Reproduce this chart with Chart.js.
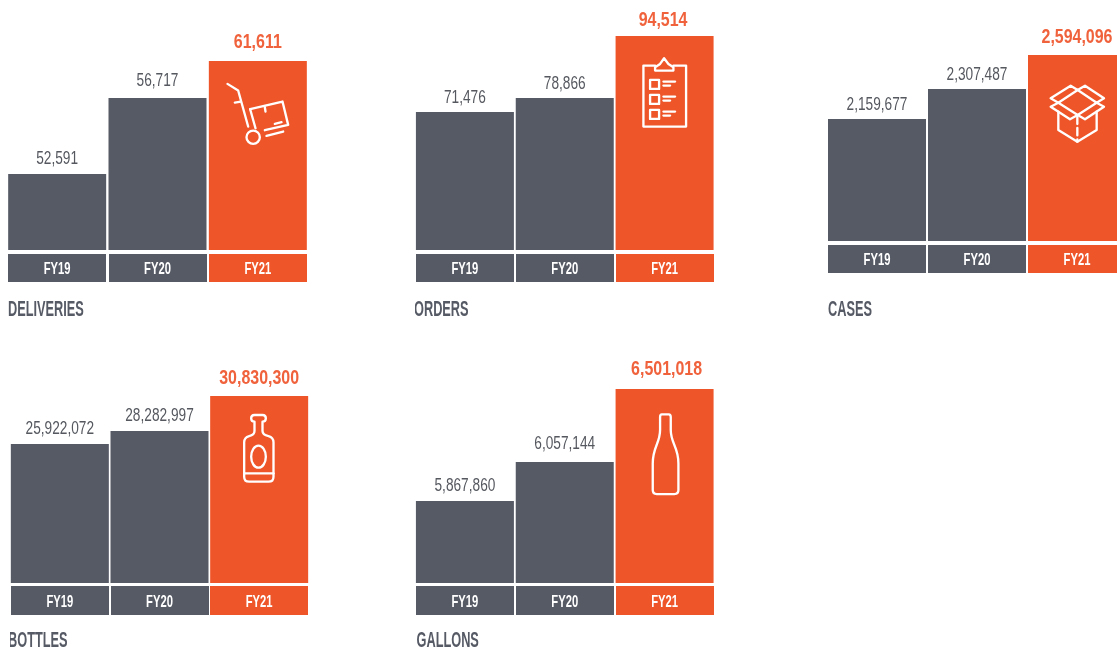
<!DOCTYPE html>
<html><head><meta charset="utf-8">
<style>
html,body{margin:0;padding:0;background:#fff;width:1117px;height:652px;overflow:hidden}
#wrap{position:relative;width:1117px;height:652px;overflow:hidden}
.p{position:absolute}
.p canvas{display:block}
</style>
<script src="https://cdn.jsdelivr.net/npm/chart.js@4"></script>
</head><body><div id="wrap"></div>
<script>
// ---- data ----
const categories = ['FY19','FY20','FY21'];
const deliveries = [52591,56717,61611];
const orders     = [71476,78866,94514];
const cases      = [2159677,2307487,2594096];
const bottles    = [25922072,28282997,30830300];
const gallons    = [5867860,6057144,6501018];
// The original axes are not to scale: share of the axis height reached at each value.
const deliveriesAxis = [.317,.633,.788];
const ordersAxis     = [.575,.633,.892];
const casesAxis      = [.508,.633,.775];
const bottlesAxis    = [.579,.633,.779];
const gallonsAxis    = [.342,.504,.808];

const DARK='#565a65', ORANGE='#ee5529';
const barColors=[DARK,DARK,ORANGE];
const FONT='"Liberation Sans",sans-serif';
// Horizontal squeeze per font size, standing in for the condensed display face.
const SQUEEZE={22:.58,17:.66,21:.76,18:.76};

// Axis with breaks: linear between listed value/share pairs.
class BrokenScale extends Chart.LinearScale{
  _stops(){
    const o=this.options;
    const s=[[0,0]];
    o.axisValues.forEach((v,i)=>s.push([v,o.axisShares[i]]));
    return s;
  }
  getPixelForValue(v){
    const s=this._stops();
    let i=1;
    while(i<s.length-1&&v>s[i][0])i++;
    const f=s[i-1][1]+(v-s[i-1][0])*(s[i][1]-s[i-1][1])/(s[i][0]-s[i-1][0]);
    return this.bottom-f*(this.bottom-this.top);
  }
}
BrokenScale.id='broken';
BrokenScale.defaults=Chart.LinearScale.defaults;
Chart.register(BrokenScale);

function poly(c,pts,close){c.beginPath();pts.forEach((p,i)=>i?c.lineTo(p[0],p[1]):c.moveTo(p[0],p[1]));if(close)c.closePath();c.stroke();}
const icons={
 trolley:{ox:-43,oy:14,draw(c){
  poly(c,[[38,27],[70,47],[100,155]]);
  poly(c,[[60,83],[78,80]]);
  poly(c,[[106,103],[203,80],[220,150],[150,166]]);
  poly(c,[[106,103],[122,160]]);
  poly(c,[[150,97],[152,110]]);
  poly(c,[[180,147],[200,142]]);
  poly(c,[[155,183],[205,170]]);
  c.beginPath();c.arc(115,187,20,0,Math.PI*2);c.stroke();
 }},
 clipboard:{ox:-54.5,oy:4,draw(c){
  poly(c,[[135,77],[100,77],[100,260],[228,260],[228,77],[190,77]]);
  c.beginPath();c.moveTo(135,92);c.lineTo(135,82);c.lineTo(150,72);c.lineTo(162,55);c.lineTo(175,72);c.lineTo(190,82);c.lineTo(190,92);c.closePath();c.stroke();
  [120,165,210].forEach(y=>{
    c.strokeRect(120,y,27,27);
    poly(c,[[160,y+5],[195,y+5]]);
    poly(c,[[160,y+17],[180,y+17]]);
  });
 }},
 box:{ox:-47,oy:15,draw(c){
  poly(c,[[85,125],[85,180],[142,215],[200,180],[200,125]]);
  poly(c,[[143,60],[200,98],[143,135],[85,98]],true);
  poly(c,[[85,98],[62,85],[122,47],[143,60],[165,47],[222,85],[200,98]]);
  poly(c,[[85,98],[62,110],[120,148],[143,135],[165,148],[222,110],[200,98]]);
  c.save();c.setLineDash([22,12]);poly(c,[[142,140],[142,215]]);c.restore();
 }},
 flask:{ox:-39,oy:9,draw(c){
  c.beginPath();
  c.moveTo(103,50);c.quadraticCurveTo(93,50,93,40);c.quadraticCurveTo(93,30,103,30);c.lineTo(127,30);
  c.quadraticCurveTo(137,30,137,40);c.quadraticCurveTo(137,50,127,50);c.lineTo(127,78);
  c.quadraticCurveTo(127,90,145,93);c.quadraticCurveTo(160,97,160,112);c.lineTo(160,215);
  c.quadraticCurveTo(160,230,145,230);c.lineTo(87,230);c.quadraticCurveTo(72,230,72,215);c.lineTo(72,112);
  c.quadraticCurveTo(72,97,87,93);c.quadraticCurveTo(103,90,103,78);c.closePath();c.stroke();
  poly(c,[[72,205],[160,205]]);
  c.beginPath();c.ellipse(115,155,22,33,0,0,Math.PI*2);c.stroke();
 }},
 wine:{ox:-34.5,oy:16,draw(c){
  c.beginPath();
  c.moveTo(95,28);c.lineTo(116,28);c.quadraticCurveTo(122,28,122,36);c.lineTo(122,75);
  c.bezierCurveTo(122,115,145,125,145,175);c.lineTo(145,255);c.quadraticCurveTo(145,267,133,267);
  c.lineTo(80,267);c.quadraticCurveTo(68,267,68,255);c.lineTo(68,175);
  c.bezierCurveTo(68,125,90,115,90,75);c.lineTo(90,36);c.quadraticCurveTo(90,28,95,28);c.closePath();c.stroke();
 }}
};

const PLOT_H=240;
const decor={
 id:'decor',
 beforeInit(chart){
  const c=chart.ctx,orig=c.fillText;
  c.fillText=function(t,x,y,w){
    const m=/(\d+)px/.exec(this.font),k=(m&&SQUEEZE[m[1]])||1;
    const dx=(m&&m[1]==='22')?(chart.options.plugins.decor.titleDx||0):0;
    this.save();this.translate(x+dx,y);this.scale(k,1);
    orig.call(this,t,0,0);
    this.restore();
  };
 },
 beforeDraw(chart){
  const c=chart.ctx,x=chart.scales.x,m=chart.getDatasetMeta(0).data,y0=chart.scales.y.bottom,o=chart.options.plugins.decor;
  m.forEach((b,i)=>{
    c.fillStyle=barColors[i];
    c.fillRect(Math.round(x.getPixelForTick(i)-49),y0+o.bandGap,98,o.bandH);
  });
 },
 afterDatasetsDraw(chart){
  const c=chart.ctx,m=chart.getDatasetMeta(0).data,vals=chart.data.datasets[0].data,o=chart.options.plugins.decor;
  c.save();c.textAlign='center';c.textBaseline='middle';
  m.forEach((b,i)=>{
    const hi=i===2;
    c.font=(hi?'bold 21px ':'18px ')+FONT;
    c.fillStyle=hi?'#f0623c':'#55585f';
    c.fillText(vals[i].toLocaleString('en-US'),b.x+(hi?o.hiDx:0),b.y-o.lift[i]);
  });
  c.restore();
  const ic=icons[o.icon],b=m[2];
  c.save();c.translate(b.x+ic.ox,b.y+ic.oy);c.scale(1/3,1/3);
  c.strokeStyle='#fff';c.lineWidth=7;c.lineJoin='round';c.lineCap='round';
  ic.draw(c);c.restore();
 }
};

function panel(opts){
  const d=document.createElement('div');d.className='p';
  const H=PLOT_H+opts.xh;
  d.style.cssText=`left:${opts.left}px;top:${opts.base-PLOT_H}px;width:${opts.width}px;height:${H}px;overflow:visible`;
  const cv=document.createElement('canvas');d.appendChild(cv);
  document.getElementById('wrap').appendChild(d);
  new Chart(cv,{type:'bar',
   data:{labels:categories,datasets:[{data:opts.values,backgroundColor:barColors,barPercentage:98/(opts.width/3),categoryPercentage:1,borderWidth:0}]},
   plugins:[decor],
   options:{responsive:true,maintainAspectRatio:false,animation:false,
    layout:{padding:0},
    plugins:{legend:{display:false},tooltip:{enabled:false},decor:{icon:opts.icon,bandGap:opts.bandGap||4,bandH:opts.bandH||28,lift:opts.lift,hiDx:opts.hiDx||0,titleDx:opts.titleDx||0}},
    scales:{
     y:{type:'broken',display:false,min:0,max:opts.values[2]*1.3,axisValues:opts.values,axisShares:opts.shares},
     x:{grid:{display:false},border:{display:false},
      afterFit(s){s.height=opts.xh;},
      ticks:{color:'#fff',padding:opts.tickPad||1,maxRotation:0,autoSkip:false,font:{family:FONT,weight:'bold',size:17}},
      title:{display:true,text:opts.title,align:'start',color:DARK,font:{family:FONT,weight:'bold',size:22,lineHeight:1},padding:{top:0,bottom:opts.titlePad}}
     }
    }
   }
  });
}
panel({left:7,    width:301,  base:250,xh:80,titlePad:9,values:deliveries,shares:deliveriesAxis,title:'DELIVERIES',icon:'trolley',lift:[15,17,19],titleDx:1});
panel({left:414.5,width:299.5,base:250,xh:80,titlePad:9,values:orders,shares:ordersAxis,title:'ORDERS',icon:'clipboard',lift:[14,14,16],hiDx:-1.5,titleDx:-1});
panel({left:827,  width:300,  base:241,xh:80,titlePad:0, values:cases,shares:casesAxis,title:'CASES',icon:'box',lift:[14,14,18],titleDx:1});
panel({left:10,   width:299,  base:583,xh:80,titlePad:11,values:bottles,shares:bottlesAxis,title:'BOTTLES',icon:'flask',lift:[15,15,18],bandGap:3,bandH:29,titleDx:-2});
panel({left:414.5,width:299.5,base:583,xh:80,titlePad:11,values:gallons,shares:gallonsAxis,title:'GALLONS',icon:'wine',lift:[15,18,20],hiDx:2,bandGap:3,bandH:29,titleDx:1.5});
</script></body></html>
